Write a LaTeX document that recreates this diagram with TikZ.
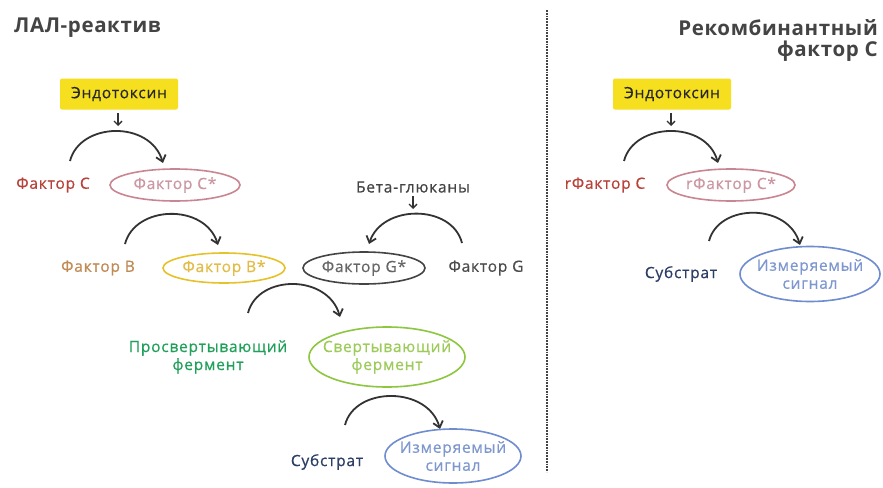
\documentclass[tikz,border=0pt]{standalone}
\usepackage{fontspec}
\setmainfont{Open Sans}[LetterSpace=5,FakeBold=0.6]
\newfontfamily\ttlfont{Open Sans}[LetterSpace=3,BoldFont={* Bold}]
\usetikzlibrary{arrows.meta,shapes.geometric}
\definecolor{ybox}{HTML}{F5DF1E}
\definecolor{cred}{HTML}{B8413A}
\definecolor{cpink}{HTML}{C98692}
\definecolor{cpinkt}{HTML}{CC97A2}
\definecolor{cbrown}{HTML}{C08A55}
\definecolor{cyel}{HTML}{E6C22A}
\definecolor{cyelt}{HTML}{E2BC46}
\definecolor{cdark}{HTML}{444444}
\definecolor{cgreen}{HTML}{21A05A}
\definecolor{clgreen}{HTML}{8DC63F}
\definecolor{clgreent}{HTML}{9CCB5A}
\definecolor{cnavy}{HTML}{2C3E66}
\definecolor{cblue}{HTML}{6E8CCF}
\definecolor{cbluet}{HTML}{7E97CF}
\definecolor{arc}{HTML}{333333}
\tikzset{
  lbl/.style={font=\fontsize{15.5}{18}\selectfont, align=center, inner sep=0},
  ttl/.style={font=\ttlfont\fontsize{20.5}{24}\selectfont\bfseries, text=cdark, inner sep=0},
  ybx/.style={lbl, fill=ybox, rounded corners=2pt, minimum width=118pt, minimum height=31pt, text=black!85},
  ell/.style={ellipse, draw, line width=1.6pt, inner sep=0},
  react/.style={draw=arc, line width=1.8pt, -{Straight Barb[length=6pt,width=10pt,line width=1.8pt]}},
  tick/.style={draw=arc, line width=1.3pt, -{Straight Barb[length=4pt,width=8pt,line width=1.3pt]}}
}
\begin{document}
\begin{tikzpicture}[x=1pt,y=-1pt]
\useasboundingbox (0,0) rectangle (883,487);
\fill[white] (0,0) rectangle (883,487);
% titles
\node[ttl, anchor=west] (t1) at (14,28) {ЛАЛ-реактив};
\node[ttl, anchor=east, align=right] (t2) at (878,40) {Рекомбинантный\\[-3pt]фактор С};
\coordinate (d1) at (547,10);
\coordinate (d2) at (547,472);
\draw[densely dotted, line width=1.8pt, cdark] (d1) -- (d2);

% ---- left
\node[ybx] (e1) at (119,94) {Эндотоксин};
\coordinate (e1a) at (118,113);
\coordinate (e1b) at (118,126);
\draw[tick] (e1a) -- (e1b);
\coordinate (a1s) at (70,161);
\coordinate (a1e) at (163,163);
\draw[react] (a1s) .. controls (80,122) and (150,120) .. (a1e);
\node[lbl, text=cred] (fc) at (53,185) {Фактор С};
\node[ell, draw=cpink, minimum width=130pt, minimum height=32pt] (fcs) at (175,185) {};
\node[lbl, text=cpinkt] (fcst) at (fcs) {Фактор С*};

\coordinate (a2s) at (125,244);
\coordinate (a2e) at (218,245);
\draw[react] (a2s) .. controls (135,205) and (205,203) .. (a2e);
\node[lbl, text=cbrown] (fb) at (98,268) {Фактор В};
\node[ell, draw=cyel, minimum width=122pt, minimum height=30pt] (fbs) at (224,268) {};
\node[lbl, text=cyelt] (fbst) at (fbs) {Фактор В*};

\node[lbl, text=cdark] (bg) at (413,187) {Бета-глюканы};
\coordinate (bga) at (413,196);
\coordinate (bgb) at (413,209);
\draw[tick] (bga) -- (bgb);
\coordinate (agS) at (462,243);
\coordinate (agE) at (369,244);
\draw[react] (agS) .. controls (452,204) and (382,204) .. (agE);
\node[ell, draw=cdark, minimum width=122pt, minimum height=32pt] (fgs) at (364,268) {};
\node[lbl, text=black!60] (fgst) at (fgs) {Фактор G*};
\node[lbl, text=black!70] (fg) at (486,268) {Фактор G};

\coordinate (a3s) at (248,313);
\coordinate (a3e) at (340,317);
\draw[react] (a3s) .. controls (258,274) and (328,274) .. (a3e);
\node[lbl, text=cgreen] (pf) at (208,357) {Просвертывающий\\фермент};
\node[ell, draw=clgreen, minimum width=156pt, minimum height=60pt] (sf) at (387,357) {};
\node[lbl, text=clgreent] (sft) at (sf) {Свертывающий\\фермент};

\coordinate (a4s) at (345,425);
\coordinate (a4e) at (440,429);
\draw[react] (a4s) .. controls (355,386) and (428,386) .. (a4e);
\node[lbl, text=cnavy] (sb) at (327,462) {Субстрат};
\node[ell, draw=cblue, minimum width=136pt, minimum height=54pt] (ms) at (453,456) {};
\node[lbl, text=cbluet] (mst) at (ms) {Измеряемый\\сигнал};

% ---- right
\node[ybx] (e2) at (672,94) {Эндотоксин};
\coordinate (e2a) at (671,113);
\coordinate (e2b) at (671,126);
\draw[tick] (e2a) -- (e2b);
\coordinate (r1s) at (624,161);
\coordinate (r1e) at (718,163);
\draw[react] (r1s) .. controls (634,122) and (706,120) .. (r1e);
\node[lbl, text=cred] (rfc) at (605,185) {rФактор С};
\node[ell, draw=cpink, minimum width=128pt, minimum height=32pt] (rfcs) at (731,185) {};
\node[lbl, text=cpinkt] (rfcst) at (rfcs) {rФактор С*};

\coordinate (r2s) at (709,241);
\coordinate (r2e) at (800,245);
\draw[react] (r2s) .. controls (719,203) and (788,203) .. (r2e);
\node[lbl, text=cnavy] (rsb) at (681,274) {Субстрат};
\node[ell, draw=cblue, minimum width=140pt, minimum height=55pt] (rms) at (810,274) {};
\node[lbl, text=cbluet] (rmst) at (rms) {Измеряемый\\сигнал};
\end{tikzpicture}
\end{document}
